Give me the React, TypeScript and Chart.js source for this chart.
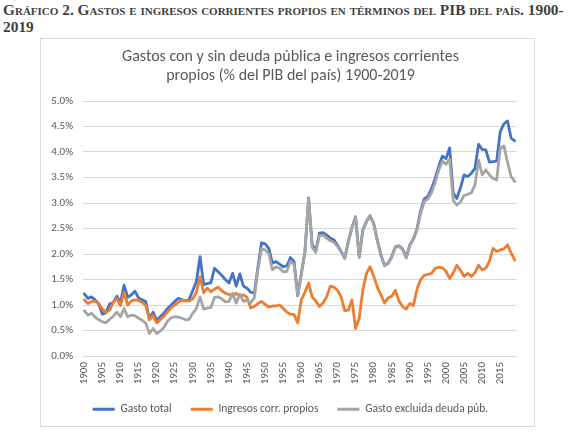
import React, { useEffect, useRef } from "react";
import { Chart, registerables } from "chart.js";

Chart.register(...registerables);

const years: string[] = [];
for (let y = 1900; y <= 2019; y++) years.push(String(y));

const gastoTotal = [
  1.22, 1.13, 1.16, 1.10, 1.02, 0.82, 0.85, 1.02, 1.05, 1.17,
  1.05, 1.39, 1.15, 1.20, 1.27, 1.14, 1.10, 1.07, 0.72, 0.86,
  0.70, 0.77, 0.84, 0.93, 1.00, 1.07, 1.13, 1.10, 1.08, 1.11,
  1.29, 1.46, 1.95, 1.40, 1.42, 1.44, 1.72, 1.65, 1.58, 1.50,
  1.43, 1.62, 1.37, 1.61, 1.37, 1.33, 1.25, 1.23, 1.74, 2.22,
  2.20, 2.11, 1.82, 1.85, 1.80, 1.75, 1.77, 1.93, 1.85, 1.18,
  1.62, 2.05, 3.10, 2.18, 2.07, 2.41, 2.42, 2.37, 2.31, 2.28,
  2.17, 2.05, 1.92, 2.25, 2.52, 2.73, 1.94, 2.47, 2.64, 2.75,
  2.60, 2.28, 1.98, 1.78, 1.82, 1.95, 2.14, 2.16, 2.10, 1.93,
  2.18, 2.30, 2.50, 2.85, 3.08, 3.13, 3.28, 3.48, 3.72, 3.92,
  3.87, 4.08, 3.19, 3.09, 3.30, 3.55, 3.52, 3.58, 3.68, 4.15,
  4.05, 4.04, 3.80, 3.81, 3.82, 4.40, 4.55, 4.61, 4.27, 4.22,
];

const ingresosCorr = [
  1.10, 1.03, 1.07, 1.07, 1.02, 0.92, 0.86, 0.90, 1.05, 1.13,
  0.99, 1.25, 1.00, 1.08, 1.10, 1.09, 1.05, 0.99, 0.71, 0.79,
  0.65, 0.71, 0.78, 0.86, 0.95, 1.00, 1.05, 1.10, 1.08, 1.08,
  1.12, 1.25, 1.55, 1.24, 1.33, 1.26, 1.31, 1.35, 1.28, 1.23,
  1.21, 1.17, 1.23, 1.17, 1.20, 1.15, 0.94, 0.97, 1.03, 1.07,
  1.01, 0.96, 0.98, 0.98, 1.00, 0.93, 0.86, 0.82, 0.81, 0.65,
  1.10, 1.25, 1.43, 1.16, 1.08, 0.97, 1.04, 1.16, 1.37, 1.35,
  1.29, 1.16, 0.89, 0.90, 1.10, 0.54, 0.74, 1.29, 1.62, 1.75,
  1.57, 1.35, 1.20, 1.04, 1.14, 1.17, 1.29, 1.08, 0.97, 0.92,
  1.03, 0.99, 1.32, 1.50, 1.58, 1.60, 1.62, 1.72, 1.74, 1.73,
  1.66, 1.52, 1.63, 1.78, 1.68, 1.56, 1.62, 1.56, 1.63, 1.78,
  1.69, 1.72, 1.86, 2.11, 2.05, 2.08, 2.10, 2.18, 2.02, 1.88,
];

const gastoExclDeuda = [
  0.89, 0.80, 0.84, 0.76, 0.71, 0.67, 0.65, 0.72, 0.78, 0.86,
  0.77, 0.93, 0.77, 0.80, 0.79, 0.74, 0.70, 0.64, 0.44, 0.54,
  0.44, 0.49, 0.56, 0.68, 0.75, 0.77, 0.76, 0.74, 0.71, 0.72,
  0.84, 0.93, 1.16, 0.92, 0.94, 0.95, 1.15, 1.16, 1.12, 1.06,
  1.07, 1.23, 1.04, 1.21, 1.07, 1.10, 1.04, 1.14, 1.70, 2.10,
  2.08, 2.01, 1.69, 1.75, 1.72, 1.65, 1.66, 1.86, 1.79, 1.18,
  1.60, 2.04, 3.09, 2.13, 2.03, 2.36, 2.37, 2.31, 2.26, 2.23,
  2.15, 2.04, 1.91, 2.24, 2.51, 2.72, 1.93, 2.46, 2.63, 2.74,
  2.59, 2.27, 1.97, 1.77, 1.81, 1.94, 2.13, 2.15, 2.09, 1.92,
  2.17, 2.29, 2.48, 2.80, 3.03, 3.08, 3.20, 3.40, 3.65, 3.82,
  3.76, 3.86, 3.05, 2.96, 3.02, 3.15, 3.17, 3.20, 3.35, 3.84,
  3.55, 3.65, 3.55, 3.48, 3.45, 4.08, 4.12, 3.80, 3.52, 3.42,
];

const seriesNames = ["Gasto total", "Ingresos corr. propios", "Gasto excluida deuda púb."];
const chartTitle = ["Gastos con y sin deuda pública e ingresos corrientes", "propios (% del PIB del país) 1900-2019"];

const FONT = "Carlito, Lato, 'Liberation Sans', sans-serif";
const TXT = "#595959";

export default function App() {
  const ref = useRef<HTMLCanvasElement | null>(null);

  useEffect(() => {
    if (!ref.current) return;
    const mk = (label: string, data: number[], color: string, order: number) => ({
      label,
      data,
      borderColor: color,
      backgroundColor: color,
      borderWidth: 2.8,
      pointRadius: 0,
      pointHoverRadius: 0,
      pointBorderWidth: 3,
      pointStyle: "line" as const,
      tension: 0,
      borderJoinStyle: "round" as const,
      borderCapStyle: "round" as const,
      yAxisID: "y",
      order,
    });
    const chart = new Chart(ref.current, {
      type: "line",
      data: {
        labels: years,
        datasets: [
          mk(seriesNames[0], gastoTotal, "#4472C4", 2),
          mk(seriesNames[1], ingresosCorr, "#ED7D31", 1),
          mk(seriesNames[2], gastoExclDeuda, "#A5A5A5", 0),
        ],
      },
      options: {
        animation: false,
        responsive: false,
        maintainAspectRatio: false,
        layout: { padding: { left: 8, right: 2, top: 0, bottom: 1 } },
        plugins: {
          tooltip: { enabled: false },
          title: {
            display: true,
            text: chartTitle,
            color: TXT,
            font: { family: FONT, size: 16, weight: "normal", lineHeight: 1.1875 },
            padding: { top: 8, bottom: 16 },
          },
          legend: {
            position: "bottom",
            labels: {
              color: TXT,
              font: { family: FONT, size: 11.5 },
              usePointStyle: true,
              pointStyle: "line",
              pointStyleWidth: 22,
              padding: 19,
              sort: (a: any, b: any) => a.datasetIndex - b.datasetIndex,
            },
          },
        },
        scales: {
          x: {
            offset: true,
            grid: { display: false, drawTicks: false },
            border: { display: false },
            ticks: {
              autoSkip: false,
              minRotation: 90,
              maxRotation: 90,
              padding: 6,
              color: TXT,
              font: { family: FONT, size: 11 },
              callback: (_v: any, i: number) => (Number(years[i]) % 5 === 0 ? years[i] : ""),
            },
            afterFit: (s: any) => {
              s.height = 28.5;
            },
          },
          y: {
            min: 0,
            max: 5,
            grid: { color: "#d9d9d9", lineWidth: 1, drawTicks: false },
            border: { display: false },
            ticks: {
              stepSize: 0.5,
              padding: 9.5,
              color: TXT,
              font: { family: FONT, size: 11 },
              callback: (v: any) => Number(v).toFixed(1) + "%",
            },
            afterFit: (s: any) => {
              s.width = 33.5;
            },
          },
          yRight: {
            position: "right",
            min: 0,
            max: 5,
            grid: { display: false, drawTicks: false },
            border: { display: false },
            ticks: { display: false },
            afterFit: (s: any) => {
              s.width = 11.9;
            },
          },
        },
      },
    });
    return () => chart.destroy();
  }, []);

  return (
    <div style={{ position: "fixed", left: 0, top: 0, width: 577, height: 438, background: "#fff", overflow: "hidden" }}>
      <div
        style={{
          position: "absolute",
          left: 3,
          top: 1,
          width: 574,
          fontFamily: "'Liberation Serif', 'DejaVu Serif', serif",
          fontWeight: "bold",
          fontVariant: "small-caps",
          fontSize: 15.4,
          lineHeight: "17px",
          color: "#3f3f3f",
          whiteSpace: "nowrap",
        }}
      >
        Gráfico 2. Gastos e ingresos corrientes propios en términos del PIB del país. 1900-
        <br />
        2019
      </div>
      <div
        style={{
          position: "absolute",
          left: 40,
          top: 38,
          width: 493,
          height: 387,
          border: "1px solid #d9d9d9",
          background: "#fff",
        }}
      />
      <canvas ref={ref} width={493} height={387} style={{ position: "absolute", left: 41, top: 39, width: 493, height: 387 }} />
    </div>
  );
}
